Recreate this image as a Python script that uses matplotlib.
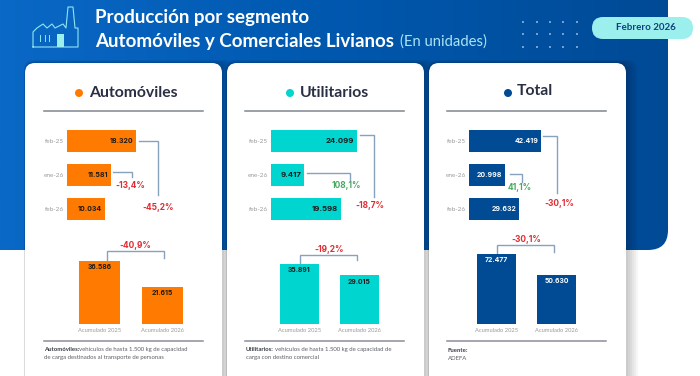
import numpy as np
import matplotlib
matplotlib.use("Agg")
import matplotlib.pyplot as plt
from matplotlib.patches import FancyBboxPatch, Circle, Rectangle

plt.rcParams['font.family'] = ['Lato', 'DejaVu Sans']
NUM = ['Inter', 'DejaVu Sans']

# data
meses = ['feb-25', 'ene-26', 'feb-26']
acumulados = ['Acumulado 2025', 'Acumulado 2026']
auto_mes = [18320, 11581, 10034]
util_mes = [24099, 9417, 19598]
total_mes = [42419, 20998, 29632]
auto_acum = [36586, 21615]
util_acum = [35891, 29015]
total_acum = [72477, 50630]
auto_var = ['-13,4%', '-45,2%', '-40,9%']
util_var = ['108,1%', '-18,7%', '-19,2%']
total_var = ['41,1%', '-30,1%', '-30,1%']

NARANJA = '#ff7a00'
TURQUESA = '#00d5d0'
AZUL = '#004b94'
ROJO = '#e02b32'
VERDE = '#45a95f'
LINEA = '#86a2bd'
OSCURO = '#2a3044'

W, H = 700, 376
fig = plt.figure(figsize=(7, 3.76), dpi=100, facecolor='white')
bg = fig.add_axes([0, 0, 1, 1])
bg.set_xlim(0, W)
bg.set_ylim(H, 0)
bg.axis('off')


def rect_px(x0, y0, x1, y1):
    return [x0 / W, 1 - y1 / H, (x1 - x0) / W, (y1 - y0) / H]


def fmt(v):
    return f'{v:,}'.replace(',', '.')


# blue header with gradient
grad = np.linspace(0, 1, 256).reshape(1, -1)
cmap = matplotlib.colors.LinearSegmentedColormap.from_list('h', ['#0a68c6', '#0058ae', '#004a96'])
im = bg.imshow(grad, extent=[0, 668, 250, 0], cmap=cmap, aspect='auto', zorder=0)
clip = FancyBboxPatch((-40, -40), 708, 290, boxstyle='round,pad=0,rounding_size=20',
                      transform=bg.transData, fc='none', ec='none')
bg.add_patch(clip)
im.set_clip_path(clip)
bg.set_xlim(0, W)
bg.set_ylim(H, 0)

# factory icon
ICONO = '#8fe6f2'
bg.plot([33, 33, 37, 43, 47, 52, 55, 63, 66, 68, 73, 75, 78, 78, 33],
        [47, 32, 28, 24, 28, 24, 28, 24, 28, 7, 7, 28, 28, 47, 47], color=ICONO, lw=0.8, zorder=2)
for xv in [40, 44.5, 49]:
    bg.plot([xv, xv], [35, 41], color=ICONO, lw=0.7, zorder=2)
bg.add_patch(Rectangle((57, 34), 7, 13, fc='#9bf0ee', ec='none', zorder=2))

# title
bg.text(95, 17, 'Producción por segmento', color='white', fontsize=13.5, fontweight='bold', va='center')
bg.text(95, 41, 'Automóviles y Comerciales Livianos', color='white', fontsize=13.5, fontweight='bold', va='center')
bg.text(400, 42, '(En unidades)', color='#a9e3f4', fontsize=10.7, va='center')

# dots and date pill
for xd in [523, 537, 550, 563, 577]:
    for yd in [22, 34, 47]:
        bg.add_patch(Circle((xd, yd), 0.8, fc='#e6f2fb', ec='none', zorder=2))
bg.add_patch(FancyBboxPatch((592, 17), 101, 22, boxstyle='round,pad=0,rounding_size=11',
                            fc='#9bf0ee', ec='none', zorder=2))
bg.text(646, 27.5, 'Febrero 2026', color='#123f7c', fontsize=7, fontweight='bold', ha='center', va='center', zorder=3)

# cards
for xc in [25, 227, 429]:
    for k in range(6, 0, -1):
        bg.add_patch(FancyBboxPatch((xc - k * 0.2, 63 - k * 0.5), 197 + k * 2.2, 340,
                                    boxstyle='round,pad=0,rounding_size=10', fc='black', ec='none',
                                    alpha=0.035, zorder=3))
    bg.add_patch(FancyBboxPatch((xc, 63), 197, 340, boxstyle='round,pad=0,rounding_size=10',
                                fc='white', ec='none', zorder=4))


def corchete(xs, ys):
    bg.plot(xs, ys, color=LINEA, lw=1.0, zorder=6, solid_joinstyle='miter')


def pct(x, y, s):
    c = ROJO if s.startswith('-') else VERDE
    bg.text(x, y, s, color=c, fontsize=6, family=NUM, fontweight='bold', ha='center', va='center', zorder=7)


def panel(nombre, color, mes, acum, xt, xd, yt, lx, hbar, vbar, col_txt, size_val):
    # heading
    bg.add_patch(Circle((xd, 93), 4, fc=color, ec='none', zorder=6))
    bg.text(xt, yt, nombre, color=OSCURO, fontsize=11.3, fontweight='bold', va='center', zorder=6)
    bg.plot([lx, lx + 159], [111, 111], color='#80868e', lw=1.1, zorder=6)
    bg.plot([lx, lx + 159], [341, 341], color='#8a9097', lw=1.1, zorder=6)

    # horizontal bars
    x0, x1 = hbar
    ax = fig.add_axes(rect_px(x0, 130, x1, 219.5), facecolor='none', zorder=5)
    ax.barh(range(3), mes, height=0.64, color=color)
    ax.set_xlim(0, max(mes))
    ax.set_ylim(2.32, -0.32)
    ax.set_xticks([])
    ax.set_yticks(range(3), meses)
    ax.tick_params(axis='y', length=0, pad=2, labelsize=4.6, labelcolor='#9a9a9a')
    for s in ax.spines.values():
        s.set_visible(False)
    for i, v in enumerate(mes):
        ax.annotate(fmt(v), (v, i), xytext=(-2, 0), textcoords='offset points', ha='right', va='center',
                    fontsize=size_val, family=NUM, fontweight='bold', color=col_txt)

    # vertical bars
    vx0, vx1, vtop = vbar
    ax2 = fig.add_axes(rect_px(vx0, vtop, vx1, 324), facecolor='none', zorder=5)
    ax2.bar(range(2), acum, width=0.65, color=color)
    ax2.set_xlim(-0.325, 1.325)
    ax2.set_ylim(0, max(acum))
    ax2.set_yticks([])
    ax2.set_xticks(range(2), acumulados)
    ax2.tick_params(axis='x', length=0, pad=3, labelsize=4.15, labelcolor='#9a9a9a')
    for s in ax2.spines.values():
        s.set_visible(False)
    for i, v in enumerate(acum):
        ax2.annotate(fmt(v), (i, v), xytext=(0, -4.4), textcoords='offset points', ha='center', va='center',
                     fontsize=4.9, family=NUM, fontweight='bold', color=col_txt)


panel('Automóviles', NARANJA, auto_mes, auto_acum, 89, 79, 93, 44,
      (67, 136), (79, 183, 261), '#1a1a1a', 5)
panel('Utilitarios', TURQUESA, util_mes, util_acum, 300, 290, 93, 245,
      (270.5, 357), (280, 379, 264), '#1a1a1a', 5.6)
panel('Total', AZUL, total_mes, total_acum, 517, 508, 91, 447,
      (469, 541), (477, 576, 254), 'white', 5)

# connectors, automoviles
corchete([139, 158, 158], [140.5, 140.5, 195])
corchete([113, 132, 132], [171.5, 171.5, 177])
corchete([107, 107, 163.5, 163.5], [260, 251, 251, 258])
pct(130, 185, auto_var[0])
pct(158, 207, auto_var[1])
pct(135, 246, auto_var[2])

# connectors, utilitarios
corchete([360, 374, 374], [134.5, 134.5, 197])
corchete([307, 350, 350], [173, 173, 180])
corchete([300, 300, 357, 357], [263, 255, 255, 260])
pct(346, 186, util_var[0])
pct(370, 205, util_var[1])
pct(329, 250, util_var[2])

# connectors, total
corchete([543, 557, 557], [136, 136, 193])
corchete([510, 522, 522], [174, 174, 182])
corchete([497, 497, 554, 554], [254, 245, 245, 252])
pct(520, 188, total_var[0])
pct(559, 203, total_var[1])
pct(526, 239.5, total_var[2])

# footnotes
NOTA = '#5a5f66'
FN = 4.35
bg.text(44, 349.5, 'Automóviles:', color='#3a3f46', fontsize=FN, fontweight='bold', va='center', zorder=6)
bg.text(79, 349.5, 'vehículos de hasta 1.500 kg de capacidad', color=NOTA, fontsize=FN, va='center', zorder=6)
bg.text(44, 358, 'de carga destinados al transporte de personas', color=NOTA, fontsize=FN, va='center', zorder=6)
bg.text(246, 349.5, 'Utilitarios:', color='#3a3f46', fontsize=FN, fontweight='bold', va='center', zorder=6)
bg.text(275, 349.5, 'vehículos de hasta 1.500 kg de capacidad de', color=NOTA, fontsize=FN, va='center', zorder=6)
bg.text(246, 358, 'carga con destino comercial', color=NOTA, fontsize=FN, va='center', zorder=6)
bg.text(448, 350.5, 'Fuente:', color='#3a3f46', fontsize=FN, fontweight='bold', va='center', zorder=6)
bg.text(448, 358, 'ADEFA', color=NOTA, fontsize=FN, va='center', zorder=6)

fig.savefig('out.png', dpi=100)
